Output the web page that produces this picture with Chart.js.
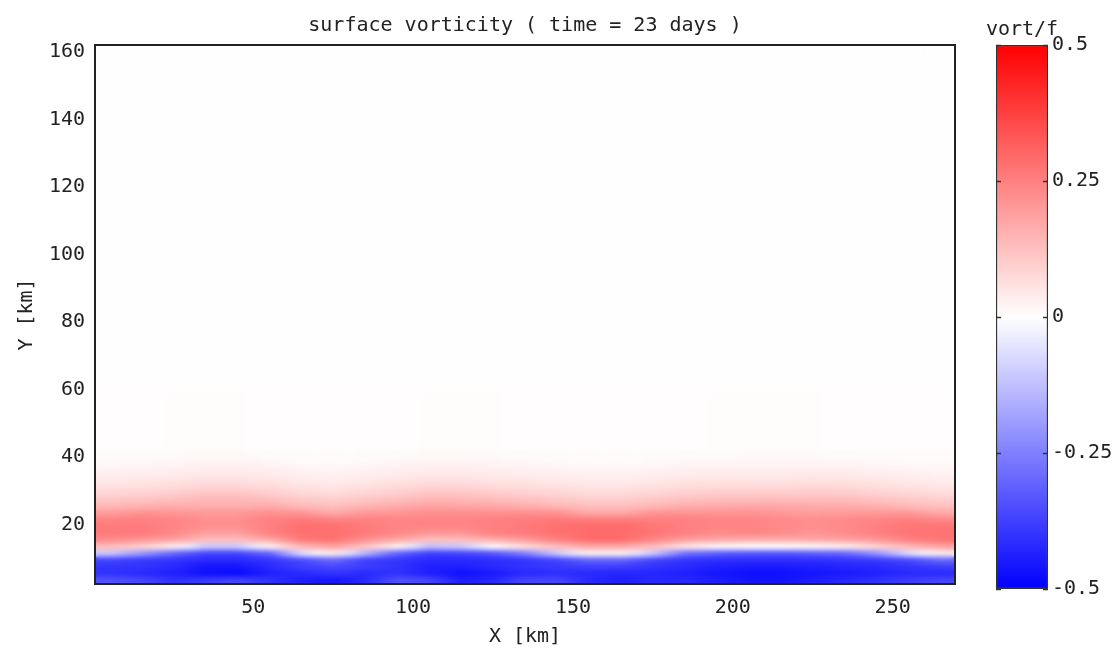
<!DOCTYPE html>
<html>
<head>
<meta charset="utf-8">
<script src="https://cdn.jsdelivr.net/npm/chart.js@4.4.1/dist/chart.umd.min.js"></script>
<style>
  html, body { margin: 0; padding: 0; background: #fff; }
  #wrap { position: relative; width: 1118px; height: 653px; overflow: hidden; }
  #chart-field { position: absolute; left: 0; top: 0; }
  #chart-colorbar { position: absolute; left: 975px; top: 0; }
  #cb-title {
    position: absolute; left: 972px; top: 18px; width: 100px;
    text-align: center; font: 20px/20px 'DejaVu Sans Mono', monospace; color: #222;
  }
</style>
</head>
<body>
<div id="wrap">
  <canvas id="chart-field" width="980" height="653"></canvas>
  <canvas id="chart-colorbar" width="143" height="653"></canvas>
  <div id="cb-title">vort/f</div>
</div>
<script>
// grid of the field (km)
const xCenters = [5, 15, 25, 35, 45, 55, 65, 75, 85, 95, 105, 115, 125, 135, 145, 155, 165, 175, 185, 195, 205, 215, 225, 235, 245, 255, 265];
const rowEdges = [2.5, 4.5, 6.5, 8.5, 10.5, 12.5, 14.5, 16.5, 18.5, 20.5, 22.5, 24.5, 26.5, 28.5, 30.5, 32.5, 34.5, 36.5, 38.5, 42, 60, 162];

const xTicks = [50, 100, 150, 200, 250];
const yTicks = [20, 40, 60, 80, 100, 120, 140, 160];
const cbTicks = [-0.5, -0.25, 0, 0.25, 0.5];

// vort/f, one array per row band (bottom to top), one value per x column
const row03 = [-0.34, -0.36, -0.40, -0.38, -0.36, -0.40, -0.44, -0.46, -0.42, -0.34, -0.36, -0.44, -0.42, -0.36, -0.36, -0.42, -0.44, -0.42, -0.42, -0.44, -0.46, -0.46, -0.44, -0.42, -0.40, -0.38, -0.36];
const row05 = [-0.40, -0.42, -0.44, -0.47, -0.48, -0.44, -0.42, -0.40, -0.42, -0.40, -0.44, -0.47, -0.45, -0.42, -0.41, -0.42, -0.43, -0.43, -0.44, -0.46, -0.47, -0.47, -0.46, -0.45, -0.44, -0.42, -0.42];
const row07 = [-0.40, -0.40, -0.42, -0.46, -0.46, -0.42, -0.38, -0.36, -0.38, -0.40, -0.44, -0.44, -0.42, -0.40, -0.39, -0.38, -0.38, -0.40, -0.42, -0.44, -0.45, -0.45, -0.44, -0.43, -0.42, -0.40, -0.38];
const row09 = [-0.37, -0.39, -0.40, -0.42, -0.42, -0.40, -0.36, -0.30, -0.38, -0.40, -0.42, -0.42, -0.41, -0.40, -0.37, -0.31, -0.31, -0.37, -0.40, -0.41, -0.41, -0.41, -0.41, -0.40, -0.39, -0.36, -0.30];
const row11 = [-0.10, -0.20, -0.30, -0.37, -0.37, -0.31, -0.06, 0.03, -0.14, -0.31, -0.38, -0.37, -0.34, -0.25, -0.10, 0.02, 0.02, -0.10, -0.28, -0.32, -0.34, -0.34, -0.32, -0.30, -0.21, -0.06, 0.03];
const row13 = [0.13, 0.09, 0.03, -0.10, -0.10, 0.02, 0.14, 0.18, 0.115, 0.02, -0.12, -0.10, 0.0, 0.065, 0.13, 0.17, 0.17, 0.13, 0.05, 0.01, 0.0, 0.0, 0.01, 0.03, 0.085, 0.14, 0.18];
const row15 = [0.23, 0.21, 0.18, 0.13, 0.13, 0.17, 0.26, 0.28, 0.22, 0.17, 0.12, 0.13, 0.16, 0.20, 0.25, 0.29, 0.29, 0.24, 0.19, 0.17, 0.16, 0.16, 0.17, 0.18, 0.205, 0.25, 0.27];
const row17 = [0.26, 0.26, 0.24, 0.19, 0.19, 0.25, 0.28, 0.28, 0.26, 0.24, 0.21, 0.21, 0.25, 0.26, 0.28, 0.29, 0.29, 0.27, 0.25, 0.23, 0.24, 0.23, 0.21, 0.23, 0.25, 0.27, 0.27];
const row19 = [0.26, 0.26, 0.24, 0.22, 0.22, 0.25, 0.28, 0.28, 0.26, 0.24, 0.24, 0.24, 0.25, 0.26, 0.28, 0.29, 0.29, 0.27, 0.25, 0.24, 0.24, 0.23, 0.22, 0.23, 0.25, 0.27, 0.27];
const row21 = [0.24, 0.25, 0.24, 0.22, 0.22, 0.25, 0.26, 0.244, 0.245, 0.24, 0.24, 0.24, 0.25, 0.255, 0.26, 0.255, 0.255, 0.25, 0.25, 0.24, 0.24, 0.23, 0.22, 0.23, 0.24, 0.25, 0.234];
const row23 = [0.195, 0.21, 0.205, 0.20, 0.20, 0.215, 0.205, 0.165, 0.20, 0.205, 0.22, 0.22, 0.22, 0.215, 0.215, 0.166, 0.166, 0.205, 0.21, 0.21, 0.21, 0.20, 0.19, 0.195, 0.20, 0.20, 0.165];
const row25 = [0.14, 0.15, 0.162, 0.155, 0.155, 0.164, 0.135, 0.125, 0.145, 0.164, 0.18, 0.175, 0.17, 0.157, 0.14, 0.127, 0.127, 0.14, 0.16, 0.165, 0.17, 0.17, 0.165, 0.162, 0.152, 0.135, 0.125];
const row27 = [0.108, 0.115, 0.125, 0.14, 0.14, 0.126, 0.105, 0.095, 0.11, 0.126, 0.142, 0.14, 0.13, 0.12, 0.108, 0.097, 0.097, 0.108, 0.122, 0.127, 0.13, 0.13, 0.13, 0.13, 0.117, 0.105, 0.095];
const row29 = [0.078, 0.085, 0.094, 0.108, 0.108, 0.095, 0.075, 0.067, 0.08, 0.095, 0.11, 0.108, 0.10, 0.09, 0.078, 0.068, 0.068, 0.078, 0.092, 0.096, 0.10, 0.10, 0.10, 0.10, 0.086, 0.075, 0.067];
const row31 = [0.055, 0.06, 0.067, 0.078, 0.078, 0.068, 0.053, 0.048, 0.057, 0.068, 0.08, 0.078, 0.07, 0.065, 0.055, 0.049, 0.049, 0.055, 0.066, 0.069, 0.07, 0.07, 0.075, 0.072, 0.061, 0.053, 0.048];
const row33 = [0.041, 0.045, 0.049, 0.055, 0.055, 0.05, 0.04, 0.036, 0.042, 0.05, 0.056, 0.055, 0.05, 0.047, 0.041, 0.037, 0.037, 0.041, 0.048, 0.051, 0.05, 0.05, 0.055, 0.052, 0.045, 0.04, 0.036];
const row35 = [0.029, 0.032, 0.036, 0.041, 0.041, 0.037, 0.028, 0.024, 0.03, 0.037, 0.042, 0.041, 0.038, 0.034, 0.029, 0.025, 0.025, 0.029, 0.035, 0.038, 0.038, 0.038, 0.04, 0.038, 0.032, 0.028, 0.024];
const row37 = [0.018, 0.02, 0.024, 0.029, 0.029, 0.025, 0.018, 0.015, 0.019, 0.025, 0.03, 0.029, 0.026, 0.022, 0.018, 0.015, 0.015, 0.018, 0.023, 0.025, 0.026, 0.026, 0.026, 0.025, 0.02, 0.018, 0.015];
const row40 = [0.009, 0.01, 0.012, 0.015, 0.015, 0.012, 0.008, 0.007, 0.009, 0.012, 0.015, 0.015, 0.013, 0.011, 0.009, 0.007, 0.007, 0.009, 0.011, 0.012, 0.013, 0.013, 0.013, 0.012, 0.01, 0.008, 0.007];
const row51 = [0.004, 0.004, 0.005, 0.005, 0.005, 0.004, 0.004, 0.003, 0.004, 0.004, 0.005, 0.005, 0.005, 0.004, 0.004, 0.003, 0.003, 0.004, 0.004, 0.005, 0.005, 0.005, 0.005, 0.004, 0.004, 0.004, 0.003];
const row111 = [0.002, 0.002, 0.002, 0.002, 0.002, 0.002, 0.002, 0.002, 0.002, 0.002, 0.002, 0.002, 0.002, 0.002, 0.002, 0.002, 0.002, 0.002, 0.002, 0.002, 0.002, 0.002, 0.002, 0.002, 0.002, 0.002, 0.002];

const fieldRows = [row03, row05, row07, row09, row11, row13, row15, row17, row19, row21, row23, row25, row27, row29, row31, row33, row35, row37, row40, row51, row111];

const TEXT = "#222";
const FONT = { family: "'DejaVu Sans Mono', monospace", size: 20, lineHeight: 1 };
const cbMax = cbTicks[cbTicks.length - 1];

// blue - white - red colour scale
function vortColor(v) {
  const t = Math.max(-1, Math.min(1, v / cbMax));
  if (t >= 0) {
    const g = Math.round(255 * (1 - t));
    return `rgb(255,${g},${g})`;
  }
  const g = Math.round(255 * (1 + t));
  return `rgb(${g},${g},255)`;
}

// shade each cell across its width toward its neighbours
function cellFill(c) {
  if (c.type !== "data") return "transparent";
  const vals = fieldRows[c.datasetIndex];
  const i = c.dataIndex;
  const sx = c.chart.scales.x;
  const half = (xCenters[1] - xCenters[0]) / 2;
  const x0 = sx ? sx.getPixelForValue(xCenters[i] - half) : NaN;
  const x1 = sx ? sx.getPixelForValue(xCenters[i] + half) : NaN;
  if (!Number.isFinite(x0) || !Number.isFinite(x1)) return vortColor(vals[i]);
  const prev = i > 0 ? vals[i - 1] : vals[i];
  const next = i < vals.length - 1 ? vals[i + 1] : vals[i];
  const g = c.chart.ctx.createLinearGradient(x0, 0, x1, 0);
  g.addColorStop(0, vortColor((prev + vals[i]) / 2));
  g.addColorStop(0.5, vortColor(vals[i]));
  g.addColorStop(1, vortColor((vals[i] + next) / 2));
  return g;
}

const smoothField = {
  id: "smoothField",
  afterDatasetsDraw(chart) {
    const { ctx, chartArea: a, canvas } = chart;
    const off = document.createElement("canvas");
    off.width = canvas.width;
    off.height = canvas.height;
    off.getContext("2d").drawImage(canvas, 0, 0);
    ctx.save();
    ctx.beginPath();
    ctx.rect(a.left, a.top, a.right - a.left, a.bottom - a.top);
    ctx.clip();
    ctx.filter = "blur(2.5px)";
    ctx.drawImage(off, 0, 0);
    ctx.restore();
  },
};

const frame = {
  id: "frame",
  afterDraw(chart) {
    const { ctx, chartArea: a } = chart;
    ctx.save();
    ctx.strokeStyle = "#222";
    ctx.lineWidth = 2;
    ctx.strokeRect(a.left, a.top, a.right - a.left, a.bottom - a.top);
    ctx.restore();
  },
};

new Chart(document.getElementById("chart-field"), {
  type: "bar",
  data: {
    datasets: fieldRows.map((vals, r) => ({
      data: xCenters.map((x) => ({ x, y: [rowEdges[r], rowEdges[r + 1]] })),
      backgroundColor: cellFill,
      borderWidth: 0,
      grouped: false,
      categoryPercentage: 1,
      barPercentage: 1,
      clip: 0,
    })),
  },
  options: {
    responsive: false,
    animation: false,
    devicePixelRatio: 1,
    layout: { padding: { left: 0, right: 25, top: 0, bottom: 0 } },
    plugins: {
      legend: { display: false },
      tooltip: { enabled: false },
      title: {
        display: true,
        text: "surface vorticity ( time = 23 days )",
        fullSize: false,
        color: TEXT,
        font: { ...FONT, weight: "normal" },
        padding: { top: 16, bottom: 9 },
      },
    },
    scales: {
      x: {
        type: "linear",
        min: 0.5,
        max: 269.5,
        offset: false,
        grid: { display: false, drawTicks: false },
        border: { display: false },
        afterBuildTicks: (s) => { s.ticks = xTicks.map((v) => ({ value: v })); },
        afterFit: (s) => { s.height = 69; },
        ticks: { color: TEXT, font: FONT, padding: 14, maxRotation: 0 },
        title: { display: true, text: "X [km]", color: TEXT, font: FONT, padding: { top: 0, bottom: 6 } },
      },
      y: {
        type: "linear",
        min: 2.5,
        max: 162,
        grid: { display: false, drawTicks: false },
        border: { display: false },
        afterBuildTicks: (s) => { s.ticks = yTicks.map((v) => ({ value: v })); },
        afterFit: (s) => { s.width = 95; },
        ticks: { color: TEXT, font: FONT, padding: 10 },
        title: { display: true, text: "Y [km]", color: TEXT, font: FONT, padding: { top: 17, bottom: 0 } },
      },
    },
  },
  plugins: [smoothField, frame],
});

// colour bar
const cbTickMarks = {
  id: "cbTickMarks",
  afterDatasetsDraw(chart) {
    const { ctx, chartArea: a, scales } = chart;
    ctx.save();
    ctx.strokeStyle = "#333";
    ctx.lineWidth = 1.5;
    cbTicks.forEach((v) => {
      const y = Math.round(scales.y.getPixelForValue(v)) + 0.5;
      ctx.beginPath();
      ctx.moveTo(a.left, y); ctx.lineTo(a.left + 5, y);
      ctx.moveTo(a.right - 5, y); ctx.lineTo(a.right, y);
      ctx.stroke();
    });
    ctx.restore();
  },
};

function cbFill(c) {
  const sy = c.chart.scales.y;
  const lo = cbTicks[0];
  const y0 = sy ? sy.getPixelForValue(lo) : NaN;
  const y1 = sy ? sy.getPixelForValue(cbMax) : NaN;
  if (!Number.isFinite(y0) || !Number.isFinite(y1) || y0 === y1) return "#fff";
  const g = c.chart.ctx.createLinearGradient(0, y0, 0, y1);
  cbTicks.forEach((v) => g.addColorStop((v - lo) / (cbMax - lo), vortColor(v)));
  return g;
}

new Chart(document.getElementById("chart-colorbar"), {
  type: "bar",
  data: {
    labels: [""],
    datasets: [{
      data: [[cbTicks[0], cbMax]],
      backgroundColor: cbFill,
      borderColor: "#333",
      borderWidth: 1.5,
      borderSkipped: false,
      borderRadius: 2,
      categoryPercentage: 1,
      barPercentage: 1,
    }],
  },
  options: {
    responsive: false,
    animation: false,
    devicePixelRatio: 1,
    layout: { padding: { left: 21, right: 0, top: 45, bottom: 64 } },
    plugins: {
      legend: { display: false },
      tooltip: { enabled: false },
    },
    scales: {
      x: { display: false },
      y: {
        position: "right",
        min: cbTicks[0],
        max: cbMax,
        grid: { display: false, drawTicks: false },
        border: { display: false },
        afterBuildTicks: (s) => { s.ticks = cbTicks.map((v) => ({ value: v })); },
        afterFit: (s) => { s.width = 70; },
        ticks: { color: TEXT, font: FONT, padding: 4, callback: (v) => String(v) },
      },
    },
  },
  plugins: [cbTickMarks],
});
</script>
</body>
</html>
